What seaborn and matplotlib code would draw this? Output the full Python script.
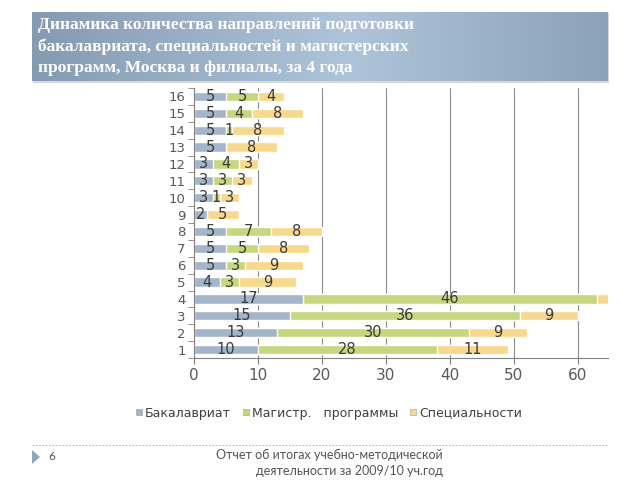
import seaborn as sns
import matplotlib.pyplot as plt
import matplotlib.patches as mpatches
from matplotlib.lines import Line2D
import pandas as pd
import numpy as np

# data
categories = [str(i) for i in range(1, 17)]
bachelor = [10, 13, 15, 17, 4, 5, 5, 5, 2, 3, 3, 3, 5, 5, 5, 5]
master = [28, 30, 36, 46, 3, 3, 5, 7, 0, 1, 3, 4, 0, 1, 4, 5]
specialist = [11, 9, 9, 3, 9, 9, 8, 8, 5, 3, 3, 3, 8, 8, 8, 4]
series_names = ["Бакалавриат", "Магистр.   программы", "Специальности"]
colors = ["#a2b5cb", "#c6d77c", "#f8d98a"]

title = ("Динамика количества направлений подготовки\n"
         "бакалавриата, специальностей и магистерских\n"
         "программ, Москва и филиалы, за 4 года")
footer = "Отчет об итогах учебно-методической\nдеятельности за 2009/10 уч.год"

sns.set_style("white")

df = pd.DataFrame({"cat": categories, "b": bachelor, "m": master, "s": specialist})
df["bm"] = df["b"] + df["m"]
df["total"] = df["bm"] + df["s"]
order = categories[::-1]

fig = plt.figure(figsize=(6.4, 4.8), dpi=100)

# title banner with gradient and a soft shadow
fig.add_artist(mpatches.Rectangle((33 / 640, 1 - 83 / 480), 576 / 640, 70 / 480,
                                  facecolor="#d8d8d8", edgecolor="none", zorder=-5))
tax = fig.add_axes([32 / 640, 1 - 81 / 480, 576 / 640, 69 / 480])
tax.set_zorder(2)
grad = np.linspace(0, 1, 256)
grad = 1 - np.abs(grad - 0.55) * 1.6
tax.imshow(grad[np.newaxis, :], aspect="auto", cmap=sns.blend_palette(
    ["#7f95ad", "#aec4d9"], as_cmap=True), extent=[0, 1, 0, 1], vmin=0, vmax=1)
tax.set_axis_off()
tax.text(0.011, 0.5, title, color="white", fontsize=12.5, fontweight="bold",
         family="Liberation Serif", va="center", ha="left", linespacing=1.42)

# chart
ax = fig.add_axes([194 / 640, 1 - 358 / 480, 414 / 640, 270 / 480])
for col, c in zip(["total", "bm", "b"], colors[::-1]):
    sns.barplot(data=df, x=col, y="cat", order=order, orient="h", color=c,
                width=0.55, saturation=1, ax=ax)

for i, cat in enumerate(order):
    row = df[df.cat == cat].iloc[0]
    starts = [0, row.b, row.bm]
    for v, s0 in zip([row.b, row.m, row.s], starts):
        cx = s0 + v / 2
        if v > 0 and cx < 64:
            ax.text(cx, i, str(v), ha="center", va="center", fontsize=10.5,
                    color="#3a3a3a")

ax.set_xlim(0, 64.7)
ax.set_ylim(15.5, -0.5)
ax.set_xticks(range(0, 61, 10))
ax.set_xticks([], minor=True)
ax.set_yticks(range(16))
ax.set_yticks(np.arange(-0.5, 16, 1), minor=True)
ax.tick_params(axis="y", which="major", length=0, labelsize=9.5,
               labelcolor="#595959", pad=6)
ax.tick_params(axis="y", which="minor", length=4, color="#808080", left=True)
ax.tick_params(axis="x", length=4, color="#808080", bottom=True,
               labelsize=11, labelcolor="#595959")
ax.grid(axis="x", color="#8c8c8c", linewidth=0.8)
ax.set_axisbelow(True)
ax.spines[["right", "top"]].set_visible(False)
ax.spines[["left", "bottom"]].set_color("#808080")
ax.set_xlabel("")
ax.set_ylabel("")

handles = [Line2D([], [], marker="s", linestyle="", markersize=5,
                  markerfacecolor=c, markeredgecolor="#999999",
                  markeredgewidth=0.4) for c in colors]
fig.legend(handles, series_names, loc="center", bbox_to_anchor=(328 / 640, 1 - 413 / 480),
           ncol=3, frameon=False, fontsize=9, handletextpad=0.1,
           columnspacing=0.8, labelcolor="#404040", handlelength=0.8)

# footer
fig.add_artist(Line2D([32 / 640, 608 / 640], [1 - 445 / 480] * 2, color="#bbbbbb",
                      linestyle=(0, (1.5, 1.5)), linewidth=0.8))
fig.add_artist(mpatches.Polygon([[32 / 640, 1 - 450 / 480], [32 / 640, 1 - 464 / 480],
                                 [40 / 640, 1 - 457 / 480]], closed=True,
                                facecolor="#8ea8c0", edgecolor="none"))
fig.text(48 / 640, 1 - 457 / 480, "6", fontsize=8.5, color="#555555",
         va="center", family="Lato")
fig.text(443 / 640, 1 - 463 / 480, footer, fontsize=9, color="#555555",
         va="center", ha="right", multialignment="right", family="Lato",
         linespacing=1.4)

fig.savefig("out.png", dpi=100)
